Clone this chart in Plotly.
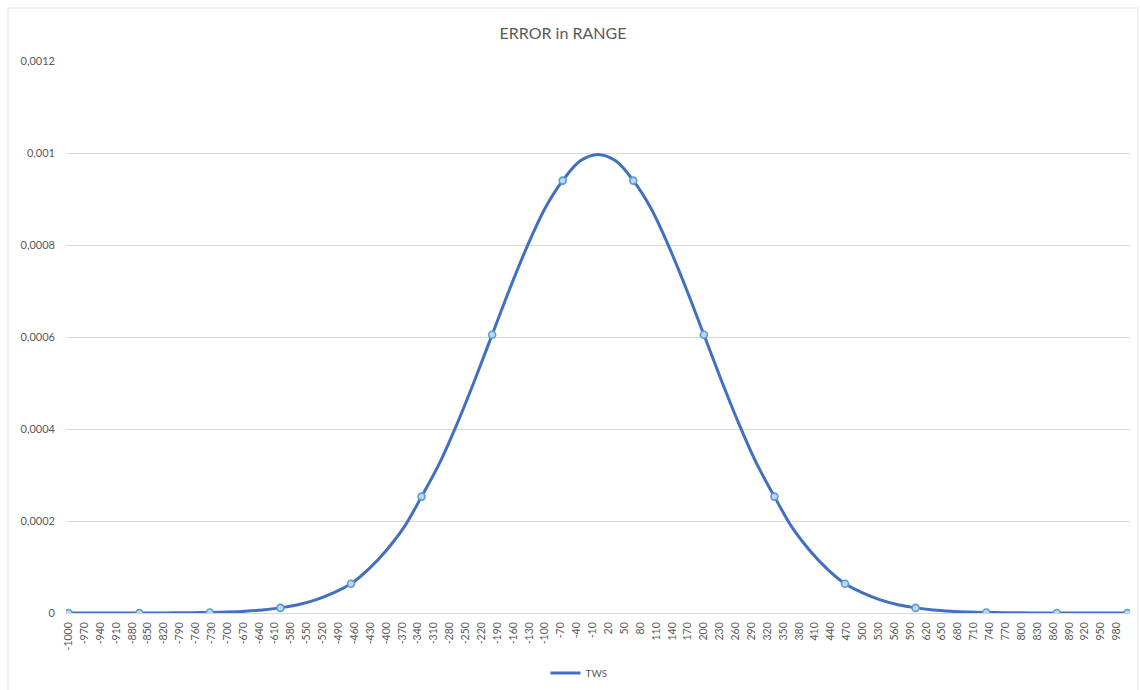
import plotly.graph_objects as go

# Range offsets sampled every 33.33 units from -1000 to 1000
offsets = [round(-1000 + i * 2000 / 60, 2) for i in range(61)]

# TWS error density along the range
tws = [
    0.0, 0.0, 0.0, 0.0, 0.0000001, 0.0000002, 0.0000003, 0.0000006,
    0.0000012, 0.0000022, 0.0000039, 0.0000066, 0.0000111, 0.0000180,
    0.0000285, 0.0000438, 0.0000635, 0.0000953, 0.000136, 0.000186,
    0.000253, 0.000324, 0.000410, 0.000505, 0.000605, 0.000705,
    0.000798, 0.000880, 0.000940, 0.000983, 0.000997, 0.000983,
    0.000940, 0.000880, 0.000798, 0.000705, 0.000605, 0.000505,
    0.000410, 0.000324, 0.000253, 0.000186, 0.000136, 0.0000953,
    0.0000635, 0.0000438, 0.0000285, 0.0000180, 0.0000111, 0.0000066,
    0.0000039, 0.0000022, 0.0000012, 0.0000006, 0.0000003, 0.0000002,
    0.0000001, 0.0, 0.0, 0.0, 0.0,
]

# Every fourth sample carries a marker
marker_step = 4

# Axis labels
x_ticks = list(range(-1000, 981, 30))
x_labels = [str(v) for v in x_ticks]
y_ticks = [0, 0.0002, 0.0004, 0.0006, 0.0008, 0.001, 0.0012]
y_labels = ["0", "0,0002", "0,0004", "0,0006", "0,0008", "0,001", "0,0012"]

LINE = "#4170C2"
GRID = "#D9D9D9"
TEXT = "#595959"
FONT = "Lato, 'Open Sans', sans-serif"

fig = go.Figure()
fig.add_trace(go.Scatter(
    x=offsets, y=tws, mode="lines", name="TWS",
    line=dict(color=LINE, width=3, shape="spline", smoothing=1),
    hoverinfo="x+y",
))
fig.add_trace(go.Scatter(
    x=offsets[::marker_step], y=tws[::marker_step], mode="markers",
    showlegend=False,
    marker=dict(size=7, color="#BDD7EE", line=dict(color="#5B9BD5", width=1.6)),
))

W, H = 1140, 690
left, right, top, bottom = 66, 10, 61, 77
plot_w = W - left - right
plot_h = H - top - bottom


def px_x(p):
    return (p - left) / plot_w


def px_y(p):
    return (H - bottom - p) / plot_h


fig.update_layout(
    width=W, height=H,
    margin=dict(l=left, r=right, t=top, b=bottom, autoexpand=False),
    paper_bgcolor="white", plot_bgcolor="white",
    font=dict(family=FONT, color=TEXT),
    title=dict(text="ERROR in RANGE", x=563 / W, xanchor="center",
               y=1 - 33 / H, yanchor="middle",
               font=dict(size=16, color=TEXT, family=FONT)),
    showlegend=True,
    legend=dict(orientation="h", x=px_x(579), xanchor="center",
                y=px_y(673), yanchor="middle",
                font=dict(size=10, color=TEXT, family=FONT),
                itemwidth=30, bgcolor="rgba(0,0,0,0)"),
    shapes=[dict(type="rect", xref="paper", yref="paper",
                 x0=px_x(8), x1=px_x(1138), y0=px_y(700), y1=px_y(8),
                 line=dict(color="#E3E3E3", width=1), layer="below")],
)

fig.update_xaxes(
    range=[-1005, 1005], automargin=False,
    tickmode="array", tickvals=x_ticks, ticktext=x_labels,
    tickangle=-90, tickfont=dict(size=10.5, color=TEXT, family=FONT),
    showgrid=False, zeroline=False, showline=True, linecolor=GRID,
    linewidth=1, ticks="", ticklabelstandoff=4,
)
fig.update_yaxes(
    range=[0, 0.0012], automargin=False,
    tickmode="array", tickvals=y_ticks, ticktext=y_labels,
    tickfont=dict(size=11, color=TEXT, family=FONT),
    showgrid=True, gridcolor=GRID, gridwidth=1,
    zeroline=False, showline=False, ticks="", ticklabelstandoff=10,
)

fig.write_html("out.html")
